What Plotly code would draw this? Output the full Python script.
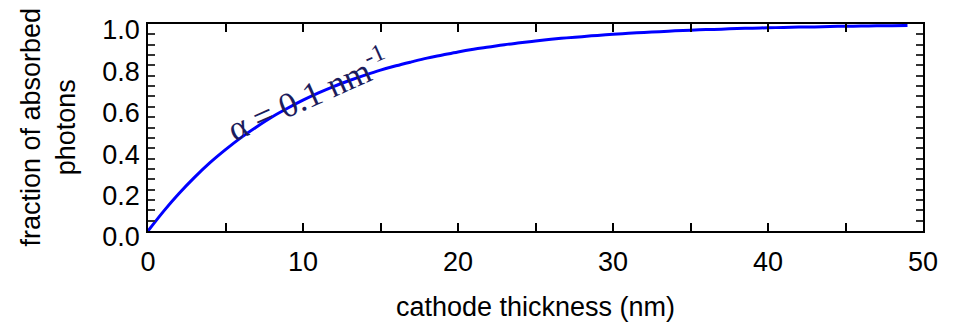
import plotly.graph_objects as go

thickness_nm = list(range(0, 50))
fraction_absorbed = [
    0.000, 0.095, 0.181, 0.259, 0.330, 0.393, 0.451, 0.503, 0.551, 0.593,
    0.632, 0.667, 0.699, 0.727, 0.753, 0.777, 0.798, 0.817, 0.835, 0.850,
    0.865, 0.878, 0.889, 0.900, 0.909, 0.918, 0.926, 0.933, 0.939, 0.945,
    0.950, 0.955, 0.959, 0.963, 0.967, 0.970, 0.973, 0.975, 0.978, 0.980,
    0.982, 0.983, 0.985, 0.986, 0.988, 0.989, 0.990, 0.991, 0.992, 0.993,
]
x_tick_vals = [0, 5, 10, 15, 20, 25, 30, 35, 40, 45, 50]
x_tick_text = ["0", "", "10", "", "20", "", "30", "", "40", "", "50"]
y_tick_vals = [0.0, 0.05, 0.1, 0.15, 0.2, 0.25, 0.3, 0.35, 0.4, 0.45, 0.5,
               0.55, 0.6, 0.65, 0.7, 0.75, 0.8, 0.85, 0.9, 0.95, 1.0]
y_tick_text = ["0.0", "", "", "", "0.2", "", "", "", "0.4", "", "",
               "", "0.6", "", "", "", "0.8", "", "", "", "1.0"]

fig = go.Figure()
fig.add_trace(go.Scatter(
    x=thickness_nm, y=fraction_absorbed, mode="lines",
    line=dict(color="#0000ff", width=3, shape="spline"), showlegend=False,
    cliponaxis=False,
))

fig.add_annotation(
    x=10.3, y=0.665, xref="x", yref="y",
    text="α = 0.1 nm<sup>-1</sup>", showarrow=False, textangle=-24,
    font=dict(family="Liberation Serif", size=35, color="#1c1c5c"),
)

fig.add_annotation(
    x=-0.129, y=0.5, xref="paper", yref="paper", xanchor="center", yanchor="middle",
    text="fraction of absorbed<br>photons", showarrow=False, textangle=-90,
    font=dict(family="Liberation Sans", size=27, color="#000000"),
)

axis_font = dict(family="Liberation Sans", size=27, color="#000000")

fig.update_xaxes(
    range=[0, 50], tickmode="array", tickvals=x_tick_vals, ticktext=x_tick_text,
    ticks="inside", ticklen=8, tickwidth=1.5, tickcolor="#000000",
    showline=True, linecolor="#000000", linewidth=1.5,
    mirror="allticks", showgrid=False, zeroline=False, automargin=False,
    tickfont=axis_font, ticklabelstandoff=6,
    title=dict(text="cathode thickness (nm)", font=dict(family="Liberation Sans", size=27, color="#000000"), standoff=21),
)
fig.update_yaxes(
    range=[0, 1.0], tickmode="array", tickvals=y_tick_vals, ticktext=y_tick_text,
    ticks="inside", ticklen=7, tickwidth=1.5, tickcolor="#333333",
    showline=True, linecolor="#000000", linewidth=1.5,
    mirror="allticks", showgrid=False, zeroline=False, automargin=False,
    tickfont=axis_font, ticklabelstandoff=1, ticklabelshift=6,
)

fig.update_layout(
    width=955, height=327,
    margin=dict(l=148, r=32, t=24, b=96),
    paper_bgcolor="white", plot_bgcolor="white",
)

fig.write_html("out.html")
